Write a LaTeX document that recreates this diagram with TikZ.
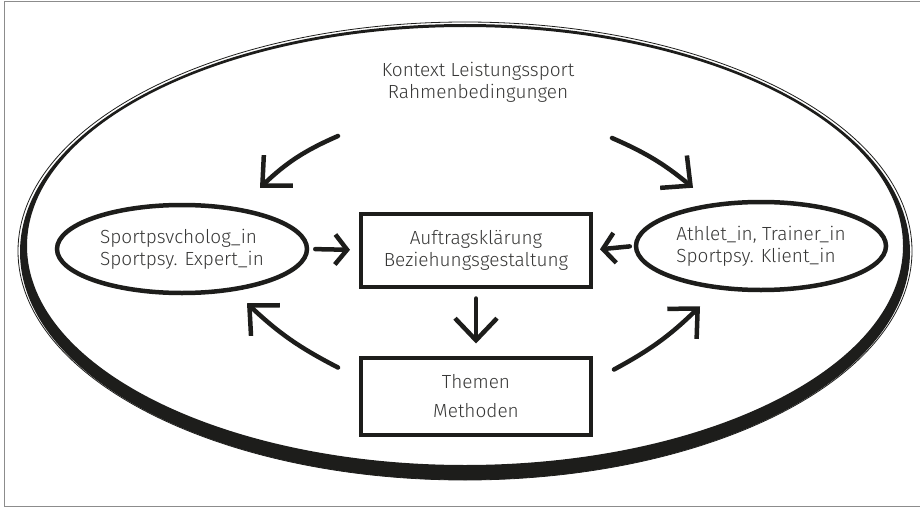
\documentclass[tikz,border=0pt]{standalone}
\usepackage{fontspec}
\setmainfont{Fira Sans Light}
\usetikzlibrary{arrows.meta,shapes.geometric,calc,positioning}
\definecolor{ink}{RGB}{29,29,27}
\definecolor{txt}{RGB}{55,55,54}
\definecolor{framegray}{RGB}{140,140,140}

\begin{document}
\begin{tikzpicture}[
        x=1pt, y=-1pt,
        font=\fontsize{19}{22}\selectfont,
        box/.style={draw=ink, line width=4pt, minimum width=230pt, minimum height=73pt, align=center, text=txt, inner sep=0pt},
        blob/.style={ellipse, draw=ink, line width=4.5pt, minimum width=250pt, minimum height=88pt, align=left, text=txt, inner sep=0pt},
        arrow/.style={-{Straight Barb[length=22pt,width=42pt]}, draw=ink, line width=4.5pt, line cap=round, line join=round},
        shortarrow/.style={arrow, -{Straight Barb[length=12pt,width=30pt]}}
    ]
        \useasboundingbox (0,0) rectangle (920,508);
        \draw[framegray, line width=1pt] (920,1.5) -- (4,1.5) -- (4,506) -- (920,506);
        \fill[ink, even odd rule] (465,252) ellipse [x radius=445pt, y radius=228pt] (465,246) ellipse [x radius=438pt, y radius=219pt];
        \draw[ink, line width=0.8pt] (465,251) ellipse [x radius=447pt, y radius=229pt];

        \node[text=txt, align=center] (kontext) at (478,82) {Kontext Leistungssport\\Rahmenbedingungen};
        \node[blob] (sportpsy) at (182,249) {Sportpsvcholog\_in\\Sportpsy. Expert\_in};
        \node[box] (auftrag) at (476,250) {Auftragsklärung\\Beziehungsgestaltung};
        \node[blob] (klient) at (761,246) {Athlet\_in, Trainer\_in\\Sportpsy. Klient\_in};
        \node[box, minimum height=77pt, font=\fontsize{19}{29}\selectfont] (themen) at (476,396) {Themen\\Methoden};

        \coordinate (ctxl) at (338,136);
        \coordinate (ctxr) at (612,138);
        \draw[arrow] (ctxl) to[bend right=10] ([xshift=78pt,yshift=15pt]sportpsy.north);
        \draw[arrow] (ctxr) to[bend left=8] ([xshift=-68pt,yshift=12pt]klient.north);
        \draw[shortarrow, shorten <=6pt, shorten >=9pt] (sportpsy.east) -- (auftrag.west);
        \draw[shortarrow, shorten <=4pt, shorten >=7pt] (klient.west) -- (auftrag.east);
        \draw[arrow, shorten <=10pt, shorten >=12pt] (auftrag.south) -- (themen.north);
        \draw[arrow] ([xshift=-21pt,yshift=-12pt]themen.north west) to[bend left=8] ([xshift=65pt,yshift=-8pt]sportpsy.south);
        \draw[arrow] ([xshift=21pt,yshift=-14pt]themen.north east) to[bend right=8] ([xshift=-61pt,yshift=-14pt]klient.south);
    \end{tikzpicture}
\end{document}
